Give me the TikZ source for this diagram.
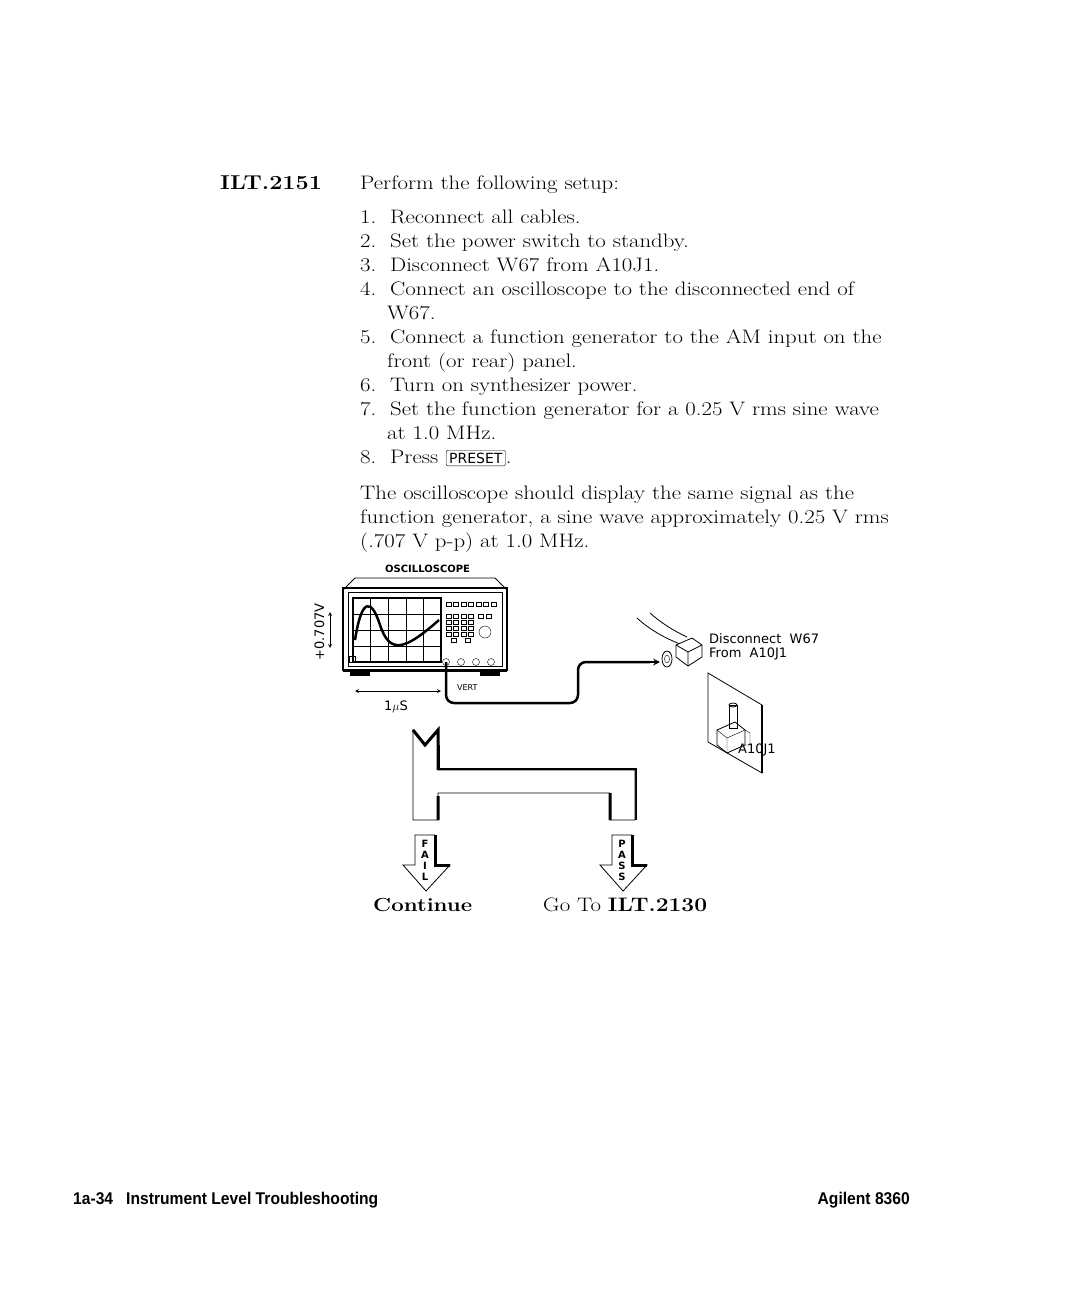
\documentclass[tikz,border=0pt]{standalone}
\usepackage{fontspec}
\setmainfont{Latin Modern Roman}[FakeStretch=1.17]
\newfontfamily\sansfont{DejaVu Sans}
\newfontfamily\condfont{Liberation Sans}[FakeStretch=0.92]
\usetikzlibrary{positioning}
\tikzstyle{txt} = [anchor=base west, inner sep=0pt, font=\fontsize{19.5}{24}\selectfont]
\tikzstyle{lbl} = [anchor=base west, inner sep=0pt, font=\sansfont\fontsize{13}{14}\selectfont]
\tikzstyle{key} = [draw, rounded corners=2pt, inner xsep=3pt, inner ysep=2.5pt, font=\sansfont\fontsize{14}{14}\selectfont]
\tikzstyle{arrow} = [thick,->,>=stealth]

\begin{document}
\begin{tikzpicture}[x=1pt,y=-1pt]
  \useasboundingbox (0,0) rectangle (1089,1309);
  % heading and steps
  \node (head) [txt, font=\bfseries\fontsize{20}{24}\selectfont] at (220,189) {ILT.2151};
  \node (intro) [txt] at (360,189) {Perform the following setup:};
  \node (s1) [txt] at (360,223) {1.\ \ Reconnect all cables.};
  \node (s2) [txt] at (360,247) {2.\ \ Set the power switch to standby.};
  \node (s3) [txt] at (360,271) {3.\ \ Disconnect W67 from A10J1.};
  \node (s4) [txt] at (360,295) {4.\ \ Connect an oscilloscope to the disconnected end of};
  \node (s4b) [txt] at (387,319) {W67.};
  \node (s5) [txt] at (360,343) {5.\ \ Connect a function generator to the AM input on the};
  \node (s5b) [txt] at (387,367) {front (or rear) panel.};
  \node (s6) [txt] at (360,391) {6.\ \ Turn on synthesizer power.};
  \node (s7) [txt] at (360,415) {7.\ \ Set the function generator for a 0.25 V rms sine wave};
  \node (s7b) [txt] at (387,439) {at 1.0 MHz.};
  \node (s8) [txt] at (360,463) {8.\ \ Press};
  \node (preset) [key, anchor=west] at (446,458) {PRESET};
  \node (dot) [txt, anchor=base west] at (preset.east |- s8.base) {.};
  \node (res1) [txt] at (360,499) {The oscilloscope should display the same signal as the};
  \node (res2) [txt] at (360,523) {function generator, a sine wave approximately 0.25 V rms};
  \node (res3) [txt] at (360,547) {(.707 V p-p) at 1.0 MHz.};

  % oscilloscope
  \node (osclbl) [lbl, font=\sansfont\bfseries\fontsize{10}{10}\selectfont] at (385,572) {OSCILLOSCOPE};
  \draw[thick] (343,590) -- (355,578) -- (495,578) -- (507,590);
  \draw[very thick] (343,588) rectangle (507,670);
  \draw[line width=3pt] (343,670) -- (507,670);
  \draw[thick] (348,592) rectangle (502,666);
  \draw[very thick] (353,598) rectangle (441,662);
  \foreach \i in {1,...,4} \draw (353+\i*17.6,598) -- (353+\i*17.6,662);
  \foreach \j in {1,...,3} \draw (353,598+\j*16) -- (441,598+\j*16);
  \draw[line width=2.5pt] (355,640) .. controls (362,595) and (372,600) .. (380,625)
    .. controls (390,655) and (405,650) .. (439,620);
  \draw (349,656) rectangle (355,662);
  \foreach \i in {0,...,6} \draw (446+\i*7.5,602) rectangle +(5,4);
  \foreach \i in {0,...,3} \foreach \j in {0,...,3} \draw (446+\i*7.5,614+\j*6) rectangle +(5,4);
  \draw (478,614) rectangle +(5,4);
  \draw (486,614) rectangle +(5,4);
  \draw (485,632) circle (6);
  \draw (451,638) rectangle +(5,4);
  \draw (465,638) rectangle +(5,4);
  \foreach \i in {0,...,3} \draw (446+\i*15,662) circle (3.5);
  \draw[line width=4pt] (350,674) -- (370,674) (480,674) -- (500,674);
  % scale arrows
  \draw[thick, <->, >=stealth] (330,612) -- (330,648);
  \node (volt) [lbl, rotate=90, anchor=base] at (324,632) {+0.707V};
  \draw[thick, <->, >=stealth] (355,691) -- (441,691);
  \node (time) [lbl] at (384,710) {1$\mu$S};
  \node (vert) [lbl, font=\sansfont\fontsize{8}{8}\selectfont] at (457,690) {VERT};

  % cable and connector
  \coordinate (probe) at (446,662);
  \coordinate (w67) at (660,662);
  \draw[line width=2.5pt, rounded corners=8pt] (probe) -- (446,703) -- (578,703) -- (578,662) -- (650,662);
  \draw[arrow, line width=2pt] (645,662) -- (w67);
  \draw[thick] (637,618) .. controls (650,630) and (665,638) .. (680,644);
  \draw[thick] (650,613) .. controls (660,622) and (672,630) .. (687,637);
  \draw[thick, fill=white] (676,645) -- (692,638) -- (702,645) -- (702,657) -- (688,666) -- (676,657) -- cycle;
  \draw[thick] (676,645) -- (688,652) -- (702,645) (688,652) -- (688,666);
  \draw[thick, fill=white] (667,659) circle[x radius=5, y radius=8];
  \draw (667,659) circle[x radius=2.5, y radius=4];
  \node (disc) [lbl] at (709,643) {Disconnect\ \ W67};
  \node (from) [lbl] at (709,657) {From\ \ A10J1};
  % panel with A10J1
  \draw[thick] (708,673) -- (762,705) -- (762,773) -- (708,742) -- cycle;
  \draw[line width=2pt] (762,705) -- (762,773);
  \draw[thick] (717,730) -- (735,722) -- (745,730) -- (745,745) -- (727,753) -- (717,745) -- cycle;
  \draw (717,730) -- (727,738) -- (745,730) (727,738) -- (727,753);
  \draw[thick] (729,705) rectangle (737,728);
  \draw[thick] (733,705) ellipse (4 and 2);
  \draw (745,730) -- (750,733) -- (750,745) -- (745,745);
  \node (jack) [lbl] at (738,753) {A10J1};

  % decision bracket
  \draw[line width=4pt] (438,770) -- (635,770) -- (635,820);
  \draw[line width=4pt] (438,745) -- (438,770);
  \draw[thick, fill=white] (413,730) -- (425,745) -- (438,730) -- (438,770) -- (635,770) -- (635,820)
    -- (610,820) -- (610,793) -- (438,793) -- (438,820) -- (413,820) -- cycle;
  \draw[line width=3pt] (438,796) -- (438,820) (610,793) -- (610,820) (413,730) -- (425,745) -- (438,730) -- (438,770);
  % FAIL arrow
  \draw[thick] (415,835) -- (435,835) -- (435,865) -- (450,865) -- (426,891) -- (403,865) -- (415,865) -- cycle;
  \draw[line width=3pt] (435,835) -- (435,865) -- (450,865);
  \node (fail) [align=center, font=\sansfont\bfseries\fontsize{10}{11}\selectfont, inner sep=0pt] at (425,860) {F\\A\\I\\L};
  % PASS arrow
  \draw[thick] (612,835) -- (632,835) -- (632,865) -- (647,865) -- (623,891) -- (600,865) -- (612,865) -- cycle;
  \draw[line width=3pt] (632,835) -- (632,865) -- (647,865);
  \node (pass) [align=center, font=\sansfont\bfseries\fontsize{10}{11}\selectfont, inner sep=0pt] at (622,860) {P\\A\\S\\S};
  \node (cont) [txt, font=\bfseries\fontsize{19}{24}\selectfont] at (373,911) {Continue};
  \node (goto) [txt] at (543,911) {Go To \textbf{ILT.2130}};

  % footer
  \node (foot) [anchor=base west, inner sep=0pt, font=\condfont\bfseries\fontsize{17}{20}\selectfont] at (73,1204)
    {1a-34\ \ \ Instrument Level Troubleshooting};
  \node (model) [anchor=base east, inner sep=0pt, font=\condfont\bfseries\fontsize{17}{20}\selectfont] at (910,1204) {Agilent 8360};
\end{tikzpicture}
\end{document}
